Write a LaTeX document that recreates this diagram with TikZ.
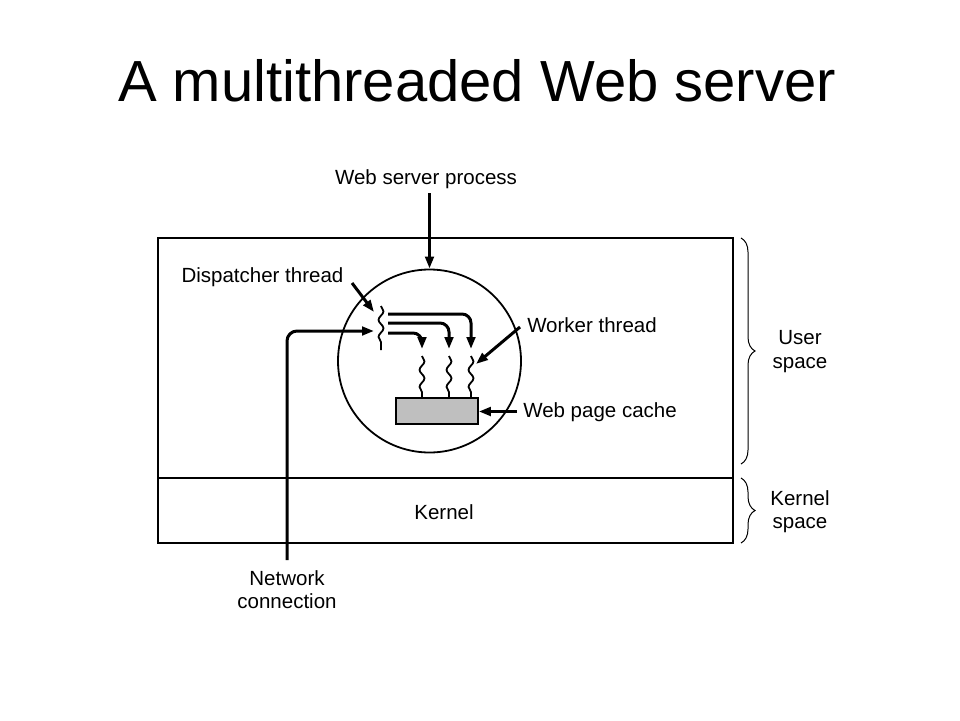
\documentclass[tikz,border=0pt]{standalone}
\usepackage{fontspec}
\setmainfont{Liberation Sans}
\usetikzlibrary{decorations.pathmorphing,decorations.pathreplacing,arrows.meta}
\begin{document}
\begin{tikzpicture}[x=1pt,y=-1pt,
  lbl/.style={font=\fontsize{20.5}{23}\selectfont, inner sep=0pt, anchor=base},
  arr/.style={line width=3pt, -{Triangle[length=12pt,width=8.5pt]}},
  frame/.style={line width=1.7pt},
  wave/.style={line width=1.8pt, decorate, decoration={snake,segment length=17pt,amplitude=2.5pt}},
  bracestyle/.style={line width=1pt, decorate, decoration={brace,amplitude=14pt}},
]
\useasboundingbox (0,0) rectangle (960,720);
\fill[white] (0,0) rectangle (960,720);

% title
\node[inner sep=0pt, anchor=base, font=\fontsize{58}{60}\selectfont] (title) at (477,101) {A multithreaded Web server};

% frame
\draw[frame] (158,238) rectangle (733,543);
\coordinate (divL) at (158,478);
\coordinate (divR) at (733,478);
\draw[frame] (divL) -- (divR);

% process circle
\node[draw, circle, line width=1.8pt, minimum size=183pt, inner sep=0pt] (proc) at (429.5,361) {};

% cache
\node[draw, fill=black!25, line width=1.8pt, minimum width=82pt, minimum height=26pt, inner sep=0pt, anchor=north west] (cache) at (395,397) {};

% dispatcher thread squiggle
\coordinate (dtop) at (381,306);
\coordinate (dbot) at (381,350);
\draw[wave] (dtop) -- (dbot);

% worker thread squiggles
\coordinate (w1t) at (422,356);
\coordinate (w2t) at (449,356);
\coordinate (w3t) at (471,356);
\coordinate (w1b) at (422,397);
\coordinate (w2b) at (449,397);
\coordinate (w3b) at (471,397);
\draw[wave] (w1t) -- (w1b);
\draw[wave] (w2t) -- (w2b);
\draw[wave] (w3t) -- (w3b);

% dispatch arrows
\coordinate (s1) at (388,314);
\coordinate (s2) at (388,323);
\coordinate (s3) at (388,333);
\coordinate (e1) at (471,349);
\coordinate (e2) at (449,349);
\coordinate (e3) at (422,349);
\draw[arr, rounded corners=9pt] (s1) -| (e1);
\draw[arr, rounded corners=9pt] (s2) -| (e2);
\draw[arr, rounded corners=9pt] (s3) -| (e3);

% labels
\node[lbl] (wsp) at (426,184) {Web server process};
\node[lbl] (disp) at (262.5,282) {Dispatcher thread};
\node[lbl] (work) at (592,332) {Worker thread};
\node[lbl] (wpc) at (600,417) {Web page cache};
\node[lbl] (kern) at (444,519) {Kernel};
\node[lbl] (net1) at (287,585) {Network};
\node[lbl] (net2) at (287,608) {connection};
\node[lbl] (us1) at (800,344) {User};
\node[lbl] (us2) at (800,368) {space};
\node[lbl] (ks1) at (800,505) {Kernel};
\node[lbl] (ks2) at (800,528) {space};

% label arrows
\coordinate (wspA) at (429.5,193);
\draw[arr] (wspA) -- (proc.north);
\coordinate (dispA) at (352,283);
\coordinate (dispB) at (374,312);
\draw[arr] (dispA) -- (dispB);
\coordinate (workA) at (520,327);
\coordinate (workB) at (476,364);
\draw[arr] (workA) -- (workB);
\coordinate (wpcA) at (517,411.5);
\draw[arr] (wpcA) -- (cache.east |- wpcA);

% network connection
\coordinate (netA) at (287,560);
\coordinate (netB) at (374,331);
\draw[arr, rounded corners=10pt] (netA) |- (netB);

% braces
\coordinate (ub1) at (741,238);
\coordinate (ub2) at (741,464);
\coordinate (kb1) at (741,478);
\coordinate (kb2) at (741,543);
\draw[bracestyle] (ub1) -- (ub2);
\draw[bracestyle] (kb1) -- (kb2);
\end{tikzpicture}
\end{document}
